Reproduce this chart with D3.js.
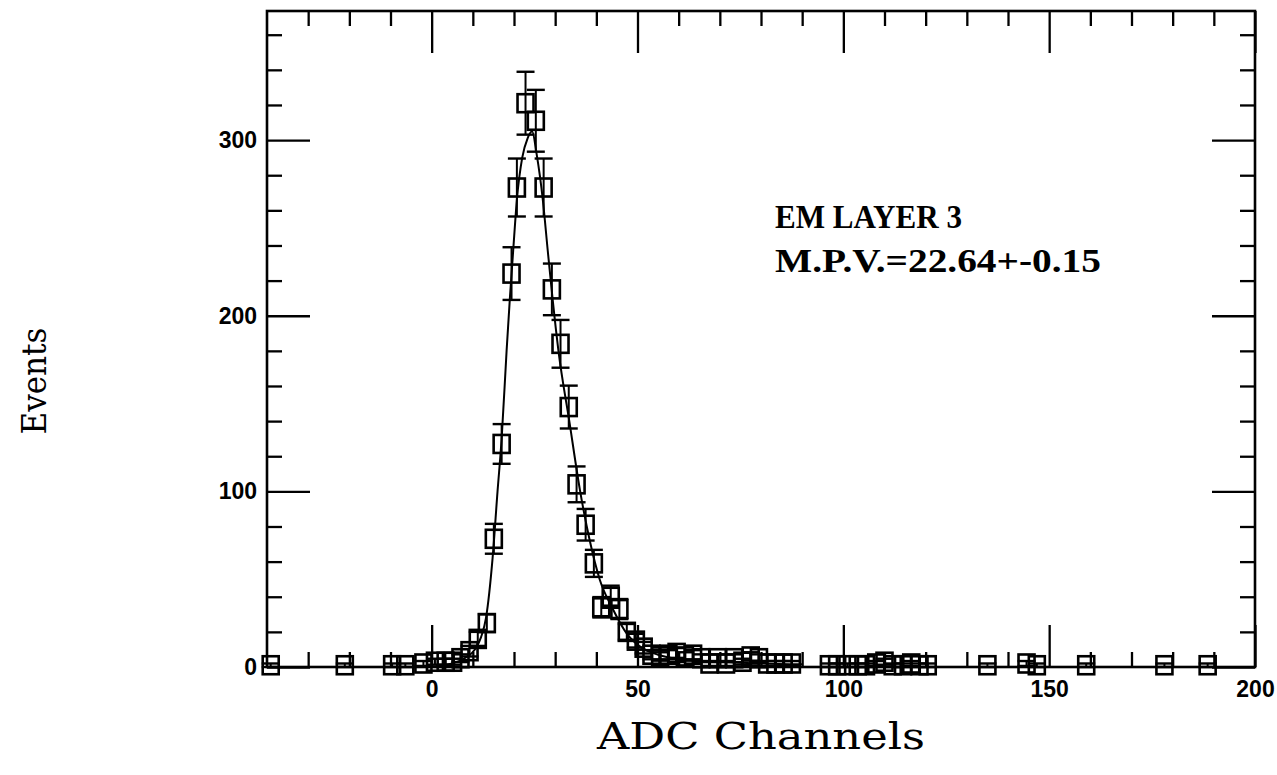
<!DOCTYPE html>
<html>
<head>
<meta charset="utf-8">
<script src="https://cdn.jsdelivr.net/npm/d3@7"></script>
<style>
  html, body { margin: 0; padding: 0; background: #fff; }
  svg { display: block; }
</style>
</head>
<body>
<svg id="chart" width="1277" height="775"></svg>
<script>
// ---- data ----
const adcChannels = [-39.1, -21.1, -9.6, -6.4, -2, 0.8, 3.4, 5.2, 7, 9.2, 11.2, 13.4, 15.1, 17.0, 19.4, 20.7, 22.8, 25.3, 27.2, 29.2, 31.3, 33.3, 35.2, 37.4, 39.4, 41.2, 43.5, 45.6, 47.4, 49.6, 51.5, 53.4, 55.5, 57.5, 59.5, 61.5, 63.5, 65.5, 67.5, 69.5, 71.5, 73.5, 75.5, 77.5, 79.5, 81.5, 83.5, 85.5, 87.5, 96.5, 98.5, 101, 103.5, 105.5, 108, 110, 112, 114.5, 116.5, 118.5, 120.5, 135, 144.5, 147, 159, 178, 188.5];
const eventCounts = [1, 1, 1, 1, 2, 3, 3, 3, 5, 9, 16, 25, 73, 127, 224, 273, 321, 311, 273, 215, 184, 148, 104, 81, 59, 34, 40, 33, 20, 15, 11, 7, 6, 7, 8, 6, 7, 5, 2, 5, 2, 5, 3, 6, 5, 2, 2, 2, 2, 1, 1, 1, 1, 1, 2, 3, 1, 1, 2, 1, 1, 1, 2, 1, 1, 1, 1];
const eventErrors = [1, 1, 1, 1, 1.4, 1.7, 1.7, 1.7, 2.2, 3, 4, 5, 8.5, 11.3, 15, 16.5, 17.9, 17.6, 16.5, 14.7, 13.6, 12.2, 10.2, 9, 7.7, 5.8, 6.3, 5.7, 4.5, 3.9, 3.3, 2.6, 2.4, 2.6, 2.8, 2.4, 2.6, 2.2, 1.4, 2.2, 1.4, 2.2, 1.7, 2.4, 2.2, 1.4, 1.4, 1.4, 1.4, 1, 1, 1, 1, 1, 1.4, 1.7, 1, 1, 1.4, 1, 1, 1, 1.4, 1, 1, 1, 1];
// fitted curve
const fitX = [1, 5, 8, 10.5, 12, 13.2, 14.8, 16, 17, 18.2, 19, 19.8, 20.7, 22, 23.3, 24.4, 25.5, 27, 28.2, 29.4, 30.8, 33.5, 36, 38.4, 40.8, 44, 47.4, 51, 55, 60, 70, 80, 90];
const fitY = [0.5, 2, 5, 10, 17, 28, 62, 100, 130, 180, 210, 237, 266, 290, 301, 305, 292, 266, 237, 209, 180, 139, 101, 72, 50, 33, 19, 11, 7, 4.5, 3, 2, 1.5];
const xMajorTicks = [0, 50, 100, 150, 200];
const xMinorTicks = [-30, -20, -10, 10, 20, 30, 40, 60, 70, 80, 90, 110, 120, 130, 140, 160, 170, 180, 190];
const yMajorTicks = [0, 100, 200, 300];
const yMinorTicks = [20, 40, 60, 80, 120, 140, 160, 180, 220, 240, 260, 280, 320, 340, 360];
const annotationLines = ["EM LAYER 3", "M.P.V.=22.64+-0.15"];
const xTitle = "ADC Channels";
const yTitle = "Events";

// ---- layout ----
const L = 267, R = 1255, T = 11, B = 667;
const x = d3.scaleLinear().domain([-40, 200]).range([L, R]);
const y = d3.scaleLinear().domain([0, 373.5]).range([B, T]);
const svg = d3.select("#chart");

const tickFont = "'Liberation Sans', Arial, sans-serif";

function styleAxis(g) {
  g.select(".domain").remove();
  g.selectAll(".tick line").attr("stroke", "#000").attr("stroke-width", 2.3);
  g.selectAll(".tick text")
    .attr("fill", "#000")
    .style("font-family", tickFont)
    .style("font-weight", "bold")
    .style("font-size", "23px");
}

// bottom
svg.append("g").attr("transform", `translate(0,${B})`)
  .call(d3.axisBottom(x).tickValues(xMajorTicks).tickSize(-42).tickPadding(14).tickFormat(d3.format("d")))
  .call(styleAxis);
svg.append("g").attr("transform", `translate(0,${B})`)
  .call(d3.axisBottom(x).tickValues(xMinorTicks).tickSize(-15).tickFormat(""))
  .call(styleAxis);
// top
svg.append("g").attr("transform", `translate(0,${T})`)
  .call(d3.axisTop(x).tickValues(xMajorTicks).tickSize(-42).tickFormat(""))
  .call(styleAxis);
svg.append("g").attr("transform", `translate(0,${T})`)
  .call(d3.axisTop(x).tickValues(xMinorTicks).tickSize(-15).tickFormat(""))
  .call(styleAxis);
// left
svg.append("g").attr("transform", `translate(${L},0)`)
  .call(d3.axisLeft(y).tickValues(yMajorTicks).tickSize(-43).tickPadding(10).tickFormat(d3.format("d")))
  .call(styleAxis);
svg.append("g").attr("transform", `translate(${L},0)`)
  .call(d3.axisLeft(y).tickValues(yMinorTicks).tickSize(-15).tickFormat(""))
  .call(styleAxis);
// right
svg.append("g").attr("transform", `translate(${R},0)`)
  .call(d3.axisRight(y).tickValues(yMajorTicks).tickSize(-43).tickFormat(""))
  .call(styleAxis);
svg.append("g").attr("transform", `translate(${R},0)`)
  .call(d3.axisRight(y).tickValues(yMinorTicks).tickSize(-15).tickFormat(""))
  .call(styleAxis);

// frame
svg.append("rect").attr("x", L).attr("y", T).attr("width", R - L).attr("height", B - T)
  .attr("fill", "none").attr("stroke", "#000").attr("stroke-width", 2.6);

// fitted curve
const fitData = fitX.map((d, i) => [d, fitY[i]]);
svg.append("path").datum(fitData)
  .attr("fill", "none").attr("stroke", "#000").attr("stroke-width", 2)
  .attr("d", d3.line().x(d => x(d[0])).y(d => y(d[1])).curve(d3.curveMonotoneX));

// data points
const pts = adcChannels.map((d, i) => ({ x: d, y: eventCounts[i], e: eventErrors[i] }));
const capW = 18, boxW = 16, boxH = 18;
const gp = svg.append("g").attr("stroke", "#000").attr("fill", "none");
pts.forEach(p => {
  const cx = x(p.x), cy = y(p.y);
  const y1 = y(p.y + p.e), y0 = y(Math.max(0, p.y - p.e));
  gp.append("line").attr("x1", cx).attr("x2", cx).attr("y1", y1).attr("y2", y0).attr("stroke-width", 2);
  gp.append("line").attr("x1", cx - capW / 2).attr("x2", cx + capW / 2).attr("y1", y1).attr("y2", y1).attr("stroke-width", 2.4);
  gp.append("line").attr("x1", cx - capW / 2).attr("x2", cx + capW / 2).attr("y1", y0).attr("y2", y0).attr("stroke-width", 2.4);
  gp.append("rect").attr("x", cx - boxW / 2).attr("y", cy - boxH / 2)
    .attr("width", boxW).attr("height", boxH).attr("stroke-width", 2.6);
});

// annotation
const annoFont = "'Liberation Serif', 'Times New Roman', serif";
svg.append("text").attr("x", 775).attr("y", 228)
  .style("font-family", annoFont)
  .style("font-weight", "bold").style("font-size", "33px")
  .attr("textLength", 187).attr("lengthAdjust", "spacingAndGlyphs")
  .text(annotationLines[0]);
svg.append("text").attr("x", 775).attr("y", 272)
  .style("font-family", annoFont)
  .style("font-weight", "bold").style("font-size", "33px")
  .attr("textLength", 326).attr("lengthAdjust", "spacingAndGlyphs")
  .text(annotationLines[1]);

// axis titles
const titleFont = "'DejaVu Serif', 'Liberation Serif', serif";
svg.append("text").attr("x", 761).attr("y", 749).attr("text-anchor", "middle")
  .style("font-family", titleFont).style("font-size", "37px")
  .attr("textLength", 328).attr("lengthAdjust", "spacingAndGlyphs")
  .text(xTitle);
svg.append("text").attr("transform", "translate(46,381) rotate(-90)").attr("text-anchor", "middle")
  .style("font-family", titleFont)
  .style("font-size", "34px")
  .attr("textLength", 107).attr("lengthAdjust", "spacingAndGlyphs")
  .text(yTitle);
</script>
</body>
</html>
